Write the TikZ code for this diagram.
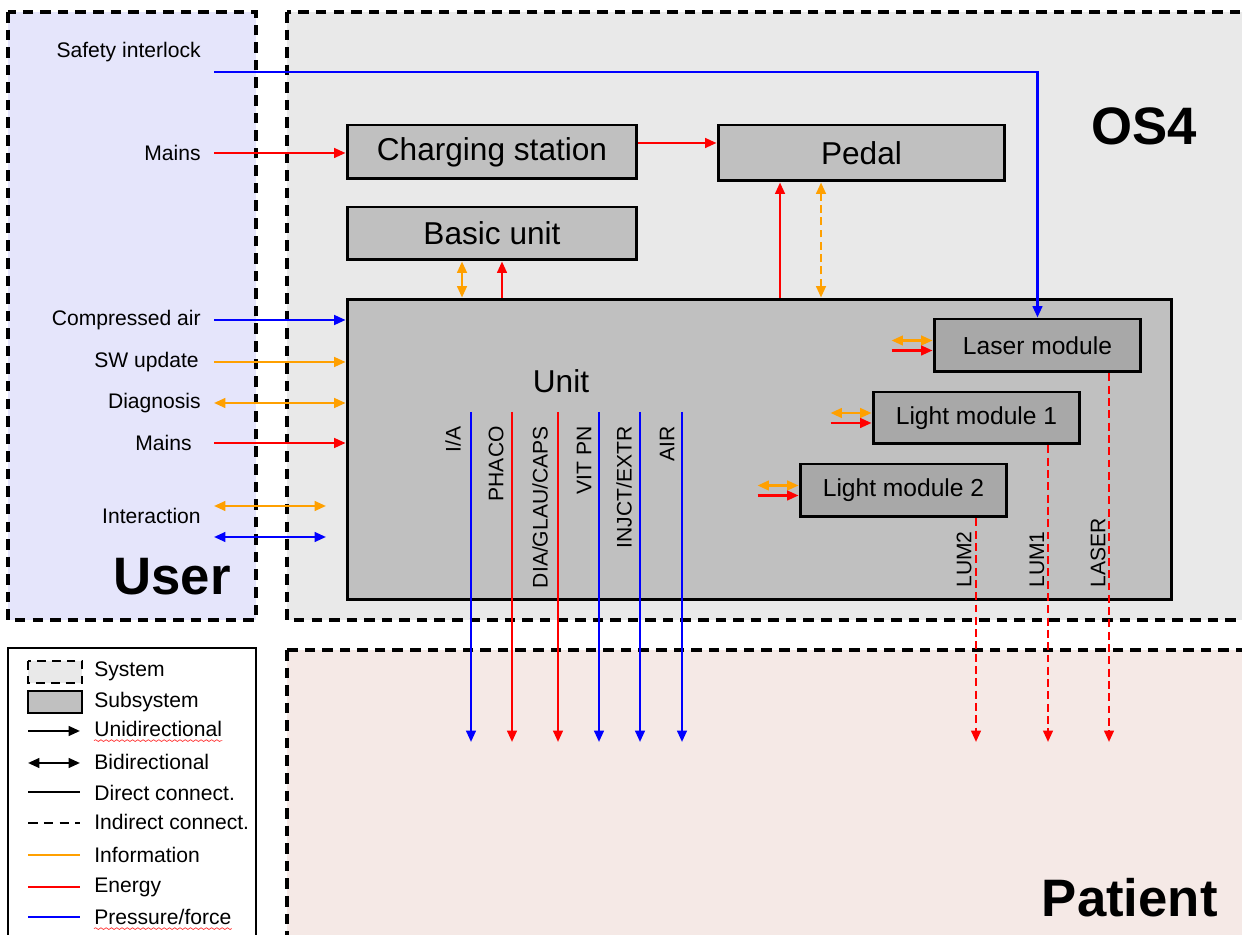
\documentclass[tikz,border=0pt]{standalone}
\usepackage{fontspec}
\setmainfont{Liberation Sans}
\usetikzlibrary{arrows.meta,positioning,decorations.pathmorphing}

\definecolor{userbg}{RGB}{229,229,251}
\definecolor{osbg}{RGB}{233,233,233}
\definecolor{patientbg}{RGB}{245,233,230}
\definecolor{subgray}{RGB}{192,192,192}
\definecolor{modgray}{RGB}{168,168,168}
\definecolor{infocol}{RGB}{255,160,0}
\definecolor{energycol}{RGB}{255,0,0}
\definecolor{forcecol}{RGB}{0,0,255}

\tikzset{
  sysbox/.style={line width=1.8pt, dash pattern=on 6pt off 4pt},
  subbox/.style={draw, line width=1.7pt, fill=subgray, inner sep=0pt, font=\fontsize{18}{20}\selectfont},
  modbox/.style={subbox, fill=modgray, minimum width=4.14cm, font=\fontsize{14}{16}\selectfont},
  info/.style={draw=infocol, line width=1.3pt},
  energy/.style={draw=energycol, line width=1.3pt},
  force/.style={draw=forcecol, line width=1.3pt},
  indirect/.style={dash pattern=on 4.5pt off 2.5pt},
  uni/.style={-{Triangle[length=6.5pt,width=5.5pt]}},
  bi/.style={{Triangle[length=6.5pt,width=5.5pt]}-{Triangle[length=6.5pt,width=5.5pt]}},
  txt/.style={inner sep=0pt, font=\fontsize{12}{14}\selectfont},
  bigtxt/.style={inner sep=0pt, font=\fontsize{30}{34}\selectfont\bfseries},
  typo/.style={draw=energycol!80, line width=0.4pt, decorate, decoration={snake, amplitude=0.5pt, segment length=3pt}},
}

\begin{document}
\begin{tikzpicture}[x=0.02cm, y=-0.02cm]
    \useasboundingbox (0,0) rectangle (1242,935);
    \clip (0,0) rectangle (1242,935);

    % Draw System Boxes
    \draw[sysbox, fill=userbg] (8,12) rectangle (256,620);
    \draw[sysbox, fill=osbg] (287,12) rectangle (1280,620);
    \draw[sysbox, fill=patientbg] (287,650) rectangle (1280,980);

    % Legend Frame
    \draw[line width=1pt, fill=white] (8,648) rectangle (256,980);

    % System Labels
    \node[bigtxt, anchor=east] (user) at (231,577) {User};
    \node[bigtxt, anchor=east] (os4) at (1197,126) {OS4};
    \node[bigtxt, anchor=east] (patient) at (1218,898) {Patient};

    % Subsystems
    \node[subbox, minimum width=5.8cm, minimum height=1.08cm] (charging) at (492,152) {Charging station};
    \node[subbox, minimum width=5.74cm, minimum height=1.12cm] (pedal) at (861.5,153) {Pedal};
    \node[subbox, minimum width=5.8cm, minimum height=1.06cm] (basic) at (492,233.5) {Basic unit};
    \node[subbox, minimum width=16.5cm, minimum height=6.02cm] (unit) at (759.5,449.5) {};
    \node[font=\fontsize{18}{20}\selectfont, inner sep=0pt] (unitlbl) at (561,381) {Unit};

    % -- modules inside unit
    \node[modbox, minimum height=1.06cm] (laser) at (1037.5,345.5) {Laser module};
    \node[modbox, minimum height=1.04cm] (light1) at (976.5,418) {Light module 1};
    \node[modbox, minimum height=1.06cm] (light2) at (903.5,490.5) {Light module 2};

    % User Side Inputs
    \node[txt, anchor=east] (safety) at (201,52) {Safety interlock};
    \coordinate (safetyA) at (214,72);
    \draw[force, uni] (safetyA) -| (laser.north);

    \node[txt, anchor=east] (mainsTop) at (201,153) {Mains};
    \coordinate (mainsTopA) at (214,153);
    \draw[energy, uni] (mainsTopA) -- (mainsTopA -| charging.west);

    % -- inputs into the unit
    \foreach \name/\txt/\lx/\y/\sty/\tip in {inAir/Compressed air/201/320/force/uni,
                                             inSw/SW update/199/362/info/uni,
                                             inDiag/Diagnosis/201/403/info/bi,
                                             inMains/Mains/192/443/energy/uni}{
        \node[txt, anchor=east] (\name) at (\lx,\y) {\txt};
        \coordinate (\name A) at (214,\y);
        \draw[\sty, \tip] (\name A) -- (\name A -| unit.west);
    }

    % -- interaction
    \node[txt, anchor=east] (interact) at (201,516) {Interaction};
    \coordinate (intA) at (214,506);
    \coordinate (intB) at (326,506);
    \draw[info, bi] (intA) -- (intB);
    \coordinate (intC) at (214,537);
    \coordinate (intD) at (326,537);
    \draw[force, bi] (intC) -- (intD);

    % Links between subsystems
    \draw[energy, uni] ([yshift=0.18cm]charging.east) -- ([yshift=0.18cm]charging.east -| pedal.west);
    \draw[info, bi] ([xshift=-0.6cm]basic.south) -- ([xshift=-0.6cm]basic.south |- unit.north);
    \draw[energy, uni] ([xshift=0.2cm]basic.south |- unit.north) -- ([xshift=0.2cm]basic.south);
    \draw[energy, uni] ([xshift=-1.63cm]pedal.south |- unit.north) -- ([xshift=-1.63cm]pedal.south);
    \draw[info, indirect, bi] ([xshift=-0.81cm]pedal.south |- unit.north) -- ([xshift=-0.81cm]pedal.south);

    % -- module feeds
    \foreach \m in {laser, light1, light2}{
        \draw[info, bi] ([shift={(-0.82cm,0.1cm)}]\m.west) -- ([yshift=0.1cm]\m.west);
        \draw[energy, uni] ([shift={(-0.82cm,-0.1cm)}]\m.west) -- ([yshift=-0.1cm]\m.west);
    }

    % Outputs to patient
    \foreach \x/\sty/\name in {471/force/ia, 512/energy/phaco, 558/energy/dia,
                               599/force/vit, 640/force/injct, 682/force/air}{
        \coordinate (\name S) at (\x,412);
        \coordinate (\name E) at (\x,742);
        \draw[\sty, uni] (\name S) -- (\name E);
    }
    \foreach \x/\name/\txt in {453/ia/{I/A}, 496/phaco/PHACO, 540/dia/{DIA/GLAU/CAPS},
                               584/vit/VIT PN, 624/injct/{INJCT/EXTR}, 667/air/AIR}
        \node[txt, rotate=90, anchor=east] (\name L) at (\x,426) {\txt};

    % -- light outputs
    \coordinate (lumTwoE) at (976,742);
    \draw[energy, indirect, uni] (light2.south -| lumTwoE) -- (lumTwoE);
    \coordinate (lumOneE) at (1048,742);
    \draw[energy, indirect, uni] (light1.south -| lumOneE) -- (lumOneE);
    \coordinate (laserE) at (1109,742);
    \draw[energy, indirect, uni] (laser.south -| laserE) -- (laserE);
    \node[txt, rotate=90, anchor=west] (lumTwoL) at (964,588) {LUM2};
    \node[txt, rotate=90, anchor=west] (lumOneL) at (1037,588) {LUM1};
    \node[txt, rotate=90, anchor=west] (laserL) at (1098,588) {LASER};

    % Legend
    % -- symbols
    \draw[line width=1.5pt, dash pattern=on 5pt off 3.5pt, fill=osbg] (28,661) rectangle (82,683);
    \draw[line width=1.7pt, fill=subgray] (28,691) rectangle (82,713);
    \draw[line width=1.3pt, uni] (28,731) -- (80,731);
    \draw[line width=1.3pt, bi] (28,763) -- (80,763);
    \draw[line width=1.3pt] (28,792) -- (80,792);
    \draw[line width=1.3pt, dash pattern=on 5.5pt off 3.5pt] (28,823) -- (80,823);
    \draw[info] (28,855) -- (80,855);
    \draw[energy] (28,887) -- (80,887);
    \draw[force] (28,917) -- (80,917);

    % -- entries
    \node[txt, anchor=west] (legSys) at (94,671) {System};
    \node[txt, anchor=west] (legSub) at (94,702) {Subsystem};
    \node[txt, anchor=west] (legUni) at (94,729) {Unidirectional};
    \node[txt, anchor=west] (legBi) at (94,762) {Bidirectional};
    \node[txt, anchor=west] (legDir) at (94,793) {Direct connect.};
    \node[txt, anchor=west] (legInd) at (94,822) {Indirect connect.};
    \node[txt, anchor=west] (legInfo) at (94,855) {Information};
    \node[txt, anchor=west] (legEn) at (94,887) {Energy};
    \node[txt, anchor=west] (legFor) at (94,917) {Pressure/force};
    \draw[typo] ([yshift=-2pt]legUni.south west) -- ([yshift=-2pt]legUni.south east);
    \draw[typo] ([yshift=-2pt]legFor.south west) -- ([yshift=-2pt]legFor.south east);
\end{tikzpicture}
\end{document}
